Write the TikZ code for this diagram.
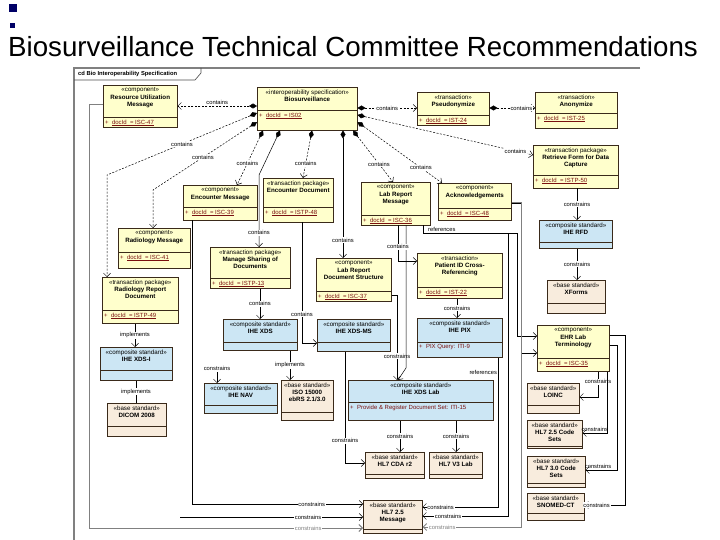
\documentclass[tikz,border=0pt]{standalone}
\usepackage{fontspec}
\setmainfont{Liberation Sans}
\usetikzlibrary{arrows.meta,shadows}

\definecolor{compyellow}{HTML}{FFFFCC}
\definecolor{cstdblue}{HTML}{CCE6F4}
\definecolor{bstdbeige}{HTML}{F8ECDD}
\definecolor{attrred}{HTML}{7A1010}
\definecolor{boxline}{HTML}{3A2A1A}

\tikzset{
  classbox/.style={draw=boxline, line width=0.5pt, rectangle, inner sep=0pt,
    drop shadow={shadow xshift=1.2pt, shadow yshift=-1.2pt, opacity=1, fill=black!35}},
  comp/.style={classbox, fill=compyellow},
  cstd/.style={classbox, fill=cstdblue},
  bstd/.style={classbox, fill=bstdbeige},
  head/.style={font=\fontsize{6.2}{7.3}\selectfont, align=center, inner sep=1pt, anchor=north},
  attr/.style={font=\fontsize{6}{7}\selectfont, text=attrred, inner sep=2pt, anchor=north west},
  lbl/.style={font=\fontsize{5.8}{6.5}\selectfont, inner sep=0.8pt},
  wlbl/.style={lbl, fill=white},
  dep/.style={draw, line width=0.5pt, -{Straight Barb[length=3.5pt,width=7pt]}},
  cont/.style={dep, dash pattern=on 2pt off 1.5pt,
    {Diamond[length=8pt,width=5pt]}-{Straight Barb[length=3.5pt,width=7pt]}},
}

\newcommand\umlbox[8][comp]{%
  \node[#1, anchor=north west, minimum width=#4pt, minimum height=#5pt] (#2) at (#3) {};
  \draw[boxline, line width=0.5pt] ([yshift=#6pt]#2.south west) -- ([yshift=#6pt]#2.south east);
  \node[head] at ([yshift=-1.5pt]#2.north) {#7};
  \node[attr] at ([yshift=#6pt]#2.south west) {#8};
}

\begin{document}
\begin{tikzpicture}[x=1pt,y=-1pt,>=latex]
\useasboundingbox (0,0) rectangle (720,540);

\fill[blue!40!black] (9,4) rectangle (17,12);
\fill[blue!40!black] (10,23) rectangle (15,28);
\node[anchor=base west, font=\fontsize{27.7}{30}\selectfont, inner sep=0pt] (title) at (8,57)
  {Biosurveillance Technical Committee Recommendations};

\draw[gray, line width=2pt] (640,68) -- (74,68) -- (74,540);
\draw[black!70, line width=0.6pt] (74,80) -- (195,80) -- (201,73) -- (201,68);
\node[anchor=west, font=\fontsize{5.8}{6}\selectfont\bfseries, inner sep=0pt] (frametab) at (78,74)
  {cd Bio Interoperability Specification};

\umlbox{rum}{103,85}{74}{42}{10}{«component»\\\textbf{Resource Utilization}\\\textbf{Message}}{+\ \ \underline{docId\ \ = ISC-47}}
\umlbox{bio}{257,87}{100}{43}{20}{«interoperability specification»\\\textbf{Biosurveillance}}{+\ \ \underline{docId\ \ = IS02}}
\umlbox{pseudo}{417,92}{72}{33}{10}{«transaction»\\\textbf{Pseudonymize}}{+\ \ \underline{docId\ \ = IST-24}}
\umlbox{anon}{535,92}{82}{36}{15}{«transaction»\\\textbf{Anonymize}}{+\ \ \underline{docId\ \ = IST-25}}
\umlbox{rfdpkg}{533,145}{85}{43}{13}{«transaction package»\\\textbf{Retrieve Form for Data}\\\textbf{Capture}}{+\ \ \underline{docId\ \ = ISTP-50}}
\umlbox{encmsg}{183,185}{74}{35}{13}{«component»\\\textbf{Encounter Message}}{+\ \ \underline{docId\ \ = ISC-39}}
\umlbox{encdoc}{263,178}{70}{44}{15}{«transaction package»\\\textbf{Encounter Document}}{+\ \ \underline{docId\ \ = ISTP-48}}
\umlbox{radmsg}{118,228}{72}{40}{16}{«component»\\\textbf{Radiology Message}}{+\ \ \underline{docId\ \ = ISC-41}}
\umlbox{raddoc}{102,277}{76}{46}{13}{«transaction package»\\\textbf{Radiology Report}\\\textbf{Document}}{+\ \ \underline{docId\ \ = ISTP-49}}
\umlbox{msd}{210,247}{80}{41}{10}{«transaction package»\\\textbf{Manage Sharing of}\\\textbf{Documents}}{+\ \ \underline{docId\ \ = ISTP-13}}
\umlbox{labmsg}{361,182}{69}{43}{10}{«component»\\\textbf{Lab Report}\\\textbf{Message}}{+\ \ \underline{docId\ \ = ISC-36}}
\umlbox{ack}{438,183}{73}{37}{12}{«component»\\\textbf{Acknowledgements}}{+\ \ \underline{docId\ \ = ISC-48}}
\umlbox{labdoc}{316,258}{75}{43}{10}{«component»\\\textbf{Lab Report}\\\textbf{Document Structure}}{+\ \ \underline{docId\ \ = ISC-37}}
\umlbox{pixref}{417,253}{85}{45}{11}{«transaction»\\\textbf{Patient ID Cross-}\\\textbf{Referencing}}{+\ \ \underline{docId\ \ = IST-22}}
\umlbox[cstd]{rfd}{539,220}{73}{28}{6}{«composite standard»\\\textbf{IHE RFD}}{}
\umlbox[bstd]{xforms}{547,280}{58}{33}{10}{«base standard»\\\textbf{XForms}}{}
\umlbox{ehrlab}{537,325}{72}{46}{13}{«component»\\\textbf{EHR Lab}\\\textbf{Terminology}}{+\ \ \underline{docId\ \ = ISC-35}}
\umlbox[bstd]{loinc}{527,383}{52}{30}{8}{«base standard»\\\textbf{LOINC}}{}
\umlbox[bstd]{codes25}{527,420}{55}{28}{2}{«base standard»\\\textbf{HL7 2.5 Code}\\\textbf{Sets}}{}
\umlbox[bstd]{codes30}{527,456}{58}{31}{4}{«base standard»\\\textbf{HL7 3.0 Code}\\\textbf{Sets}}{}
\umlbox[bstd]{snomed}{527,493}{57}{27}{7}{«base standard»\\\textbf{SNOMED-CT}}{}
\umlbox[cstd]{xdsi}{100,347}{72}{33}{10}{«composite standard»\\\textbf{IHE XDS-I}}{}
\umlbox[bstd]{dicom}{107,403}{59}{33}{10}{«base standard»\\\textbf{DICOM 2008}}{}
\umlbox[cstd]{xds}{223,319}{74}{31}{8}{«composite standard»\\\textbf{IHE XDS}}{}
\umlbox[cstd]{xdsms}{317,319}{73}{32}{9}{«composite standard»\\\textbf{IHE XDS-MS}}{}
\umlbox[cstd]{nav}{204,383}{73}{30}{8}{«composite standard»\\\textbf{IHE NAV}}{}
\umlbox[bstd]{ebrs}{281,380}{52}{40}{8}{«base standard»\\\textbf{ISO 15000}\\\textbf{ebRS 2.1/3.0}}{}
\umlbox[cstd]{pix}{417,318}{85}{39}{15}{«composite standard»\\\textbf{IHE PIX}}{+\ \ PIX Query: ITI-9}
\umlbox[cstd]{xdslab}{348,380}{145}{40}{18}{«composite standard»\\\textbf{IHE XDS Lab}}{+\ \ Provide \& Register Document Set: ITI-15}
\umlbox[bstd]{cda}{365,452}{59}{26}{4}{«base standard»\\\textbf{HL7 CDA r2}}{}
\umlbox[bstd]{v3lab}{429,452}{53}{26}{4}{«base standard»\\\textbf{HL7 V3 Lab}}{}
\umlbox[bstd]{msg25}{363,500}{59}{33}{4}{«base standard»\\\textbf{HL7 2.5}\\\textbf{Message}}{}

\draw[cont] (bio.west |- 0,106) -- node[lbl,above]{contains} (rum.east |- 0,106);
\draw[cont] (bio.west |- 0,113) -- node[wlbl,pos=.5]{contains} (107,175) -- (raddoc.north -| 107,0);
\draw[cont] (bio.west |- 0,122) -- node[wlbl,pos=.52]{contains} (153,190) -- (radmsg.north -| 153,0);
\draw[cont] (bio.south -| 263,0) -- node[wlbl,pos=.6]{contains} (encmsg.north -| 237,0);
\draw[cont,solid] (bio.south -| 280,0) -- (259,175) -- node[wlbl,pos=.8]{contains} (msd.north -| 259,0);
\draw[cont] (bio.south -| 312,0) -- node[wlbl,pos=.7]{contains} (encdoc.north -| 303,0);
\draw[cont,solid] (bio.south -| 343,0) -- node[wlbl,pos=.86]{contains} (labdoc.north -| 343,0);
\draw[cont] (bio.south -| 353,0) -- node[wlbl,pos=.65]{contains} (labmsg.north -| 393,0);
\draw[cont] (bio.east |- 0,122) -- node[wlbl,pos=.75]{contains} (ack.north -| 442,0);
\draw[cont] (bio.east |- 0,115) -- node[wlbl,pos=.9]{contains} (rfdpkg.west |- 0,155);
\draw[cont] (bio.east |- 0,108) -- node[wlbl]{contains} (pseudo.west |- 0,108);
\draw[cont] (pseudo.east |- 0,108) -- node[wlbl,pos=.7]{contains} (anon.west |- 0,108);

\draw[dep] (rfdpkg.south -| 577,0) -- node[wlbl]{constrains} (rfd.north -| 577,0);
\draw[dep] (rfd.south -| 577,0) -- node[wlbl]{constrains} (xforms.north -| 577,0);
\draw[dep] (raddoc.south -| 135,0) -- node[wlbl]{implements} (xdsi.north -| 135,0);
\draw (xdsi.south -| 136,0) -- node[wlbl]{implements} (dicom.north -| 136,0);
\draw[dep] (msd.south -| 260,0) -- node[wlbl]{contains} (xds.north -| 260,0);
\draw[dep] (encdoc.south -| 302,0) |- node[wlbl,pos=.38]{contains} (xdsms.west |- 0,343);
\draw[dep] (xds.south -| 290,0) -- node[wlbl]{implements} (ebrs.north -| 290,0);
\coordinate (navc) at (217,372);
\draw[dep] (navc) node[lbl,above]{constrains} -- (nav.north -| 217,0);
\draw[dep] (xdsms.south -| 345,0) |- node[wlbl,pos=.4]{constrains} (cda.west |- 0,463);
\draw[dep] (xdslab.south -| 400,0) -- node[wlbl]{constrains} (cda.north -| 400,0);
\draw[dep] (xdslab.south -| 456,0) -- node[wlbl]{constrains} (v3lab.north -| 456,0);
\draw[dep] (labdoc.east |- 0,295) -| node[wlbl,pos=.86]{constrains} (xdslab.north -| 397,0);
\draw[dep] (labmsg.south -| 406,0) -- (406,368) -- (xdslab.north -| 398,0);
\draw[dep] (pixref.south -| 457,0) -- node[wlbl]{constrains} (pix.north -| 457,0);
\draw[dep] (pix.south -| 498,0) |- node[lbl,pos=.05,left]{references} node[wlbl,pos=.88]{constrains} (msg25.east |- 0,507);
\draw[dep] (labmsg.south -| 398,0) |- node[wlbl,pos=.3]{contains} (pixref.west |- 0,261);
\draw[dep] (labmsg.south -| 423,0) |- node[lbl,pos=.6,above]{references} (517,233) |- (ehrlab.west |- 0,336);
\draw[dep] (labmsg.south -| 423,0) |- (508,233) |- node[wlbl,pos=.85]{constrains} (msg25.east |- 0,516);

\draw[dep, gray, line width=1pt] (rum.west |- 0,105) -| (89,528) -- node[wlbl,pos=.8]{constrains} (msg25.west |- 0,528);
\draw[dep] (encmsg.south -| 192,0) |- node[wlbl,pos=.85]{constrains} (msg25.west |- 0,504);
\coordinate (radc) at (180,517);
\draw[dep] (radc) -- node[wlbl,pos=.7]{constrains} (msg25.west |- 0,517);
\draw[dep] (ack.east |- 0,203) -| (521,353) -- (ehrlab.west |- 0,353);
\draw[dep, gray, line width=1pt] (ack.east |- 0,203) -| (521,527) -- node[wlbl,pos=.8]{constrains} (msg25.east |- 0,527);

\draw[dep] (ehrlab.south -| 598,0) |- node[wlbl,pos=.2]{constrains} (loinc.east |- 0,397);
\draw[dep] (ehrlab.south -| 607,0) |- node[lbl,pos=.75,above]{constrains} (codes25.east |- 0,433);
\draw[dep] (ehrlab.east |- 0,345) -- (617,345) |- node[lbl,pos=.8,above]{constrains} (codes30.east |- 0,470);
\draw[dep] (ehrlab.east |- 0,335) -- (625,335) |- node[wlbl,pos=.85]{constrains} (snomed.east |- 0,505);
\end{tikzpicture}
\end{document}
